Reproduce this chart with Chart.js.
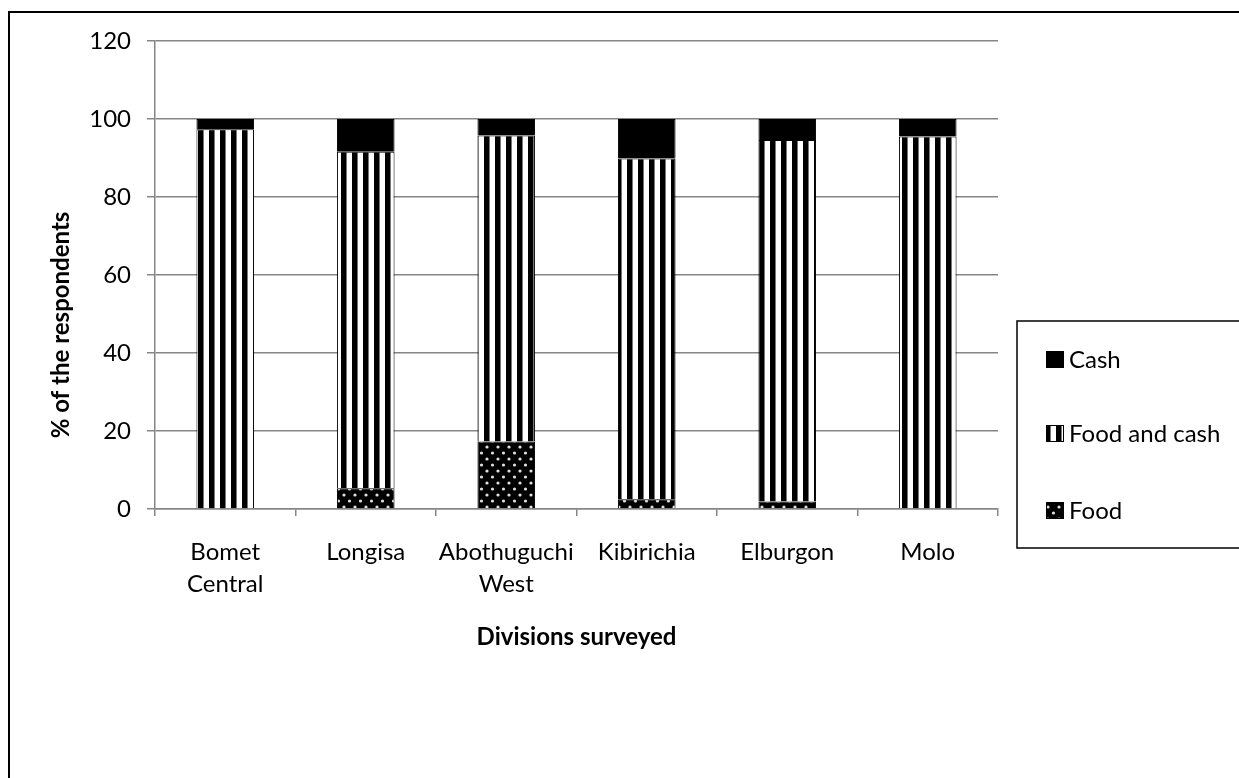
<!DOCTYPE html>
<html>
<head>
<meta charset="utf-8">
<script src="https://cdn.jsdelivr.net/npm/chart.js@4/dist/chart.umd.min.js"></script>
<style>
  html, body { margin: 0; padding: 0; background: #fff; }
  #wrap { width: 1239px; height: 778px; }
</style>
</head>
<body>
<div id="wrap"><canvas id="c" width="1239" height="778"></canvas></div>
<script>
// Divisions and the share of respondents in each (%)
const divisions = [['Bomet', 'Central'], 'Longisa', ['Abothuguchi', 'West'], 'Kibirichia', 'Elburgon', 'Molo'];
const food = [0, 5.3, 17.3, 2.5, 1.9, 0];
const foodAndCash = [97.4, 86.3, 78.5, 87.4, 92.7, 95.5];
const cash = [2.6, 8.4, 4.2, 10.1, 5.4, 4.5];
const yTicks = [0, 20, 40, 60, 80, 100, 120];

const FONT = 'Lato, "Open Sans", sans-serif';
const GRID = '#868686';

// Fill patterns: vertical stripes and dotted black
function stripePattern() {
  const t = document.createElement('canvas');
  t.width = 11; t.height = 4;
  const g = t.getContext('2d');
  g.fillStyle = '#fff'; g.fillRect(0, 0, 11, 4);
  g.fillStyle = '#000'; g.fillRect(0, 0, 5, 4);
  g.fillStyle = '#777'; g.fillRect(5, 0, 1, 4);
  return g.createPattern(t, 'repeat');
}
function dotPattern() {
  const t = document.createElement('canvas');
  t.width = 11; t.height = 12;
  const g = t.getContext('2d');
  g.fillStyle = '#000'; g.fillRect(0, 0, 11, 12);
  g.fillStyle = '#e0e0e0';
  [[3, 3], [8.5, 9]].forEach(([x, y]) => {
    g.beginPath(); g.arc(x, y, 1.6, 0, Math.PI * 2); g.fill();
  });
  return g.createPattern(t, 'repeat');
}
const stripes = stripePattern();
const dots = dotPattern();

// White page with the frame line along the top and left
const framePlugin = {
  id: 'frame',
  beforeDraw(chart) {
    const ctx = chart.ctx;
    ctx.save();
    ctx.fillStyle = '#fff';
    ctx.fillRect(0, 0, chart.width, chart.height);
    ctx.strokeStyle = '#000';
    ctx.lineWidth = 2;
    ctx.beginPath();
    ctx.moveTo(9, chart.height);
    ctx.lineTo(9, 12);
    ctx.lineTo(chart.width, 12);
    ctx.stroke();
    ctx.restore();
  }
};

// Axis titles
const axisTitles = {
  id: 'axisTitles',
  afterDraw(chart) {
    const ctx = chart.ctx, a = chart.chartArea;
    ctx.save();
    ctx.fillStyle = '#000';
    ctx.font = 'bold 24px ' + FONT;
    ctx.textAlign = 'center';
    ctx.textBaseline = 'middle';
    ctx.fillText('Divisions surveyed', (a.left + a.right) / 2, a.bottom + 128);
    ctx.translate(a.left - 94, a.top + 284);
    ctx.rotate(-Math.PI / 2);
    ctx.fillText('% of the respondents', 0, 0);
    ctx.restore();
  }
};

// Boxed legend at the right, drawn with the dataset fills
const boxLegend = {
  id: 'boxLegend',
  afterDraw(chart) {
    const ctx = chart.ctx, a = chart.chartArea;
    const x0 = a.right + 19, y0 = a.top + 280;
    ctx.save();
    ctx.strokeStyle = '#000';
    ctx.lineWidth = 1.5;
    ctx.strokeRect(x0, y0, 260, 227);
    const items = chart.data.datasets.slice().reverse();
    const rows = [38, 112, 189];
    ctx.font = '24px ' + FONT;
    ctx.textBaseline = 'middle';
    ctx.textAlign = 'left';
    items.forEach((ds, i) => {
      const cy = y0 + rows[i];
      const mx = x0 + 29, my = cy - 8;
      ctx.fillStyle = ds.backgroundColor;
      ctx.fillRect(mx, my, 18, 17);
      ctx.strokeStyle = '#000';
      ctx.lineWidth = 1;
      ctx.strokeRect(mx + 0.5, my + 0.5, 17, 16);
      ctx.fillStyle = '#000';
      ctx.fillText(ds.label, x0 + 52, cy + 1);
    });
    ctx.restore();
  }
};

new Chart(document.getElementById('c'), {
  type: 'bar',
  data: {
    labels: divisions,
    datasets: [
      { label: 'Food', data: food, backgroundColor: dots },
      { label: 'Food and cash', data: foodAndCash, backgroundColor: stripes },
      { label: 'Cash', data: cash, backgroundColor: '#000' }
    ]
  },
  options: {
    responsive: false,
    animation: false,
    devicePixelRatio: 1,
    layout: { padding: { left: 85, right: 241, top: 41, bottom: 169 } },
    datasets: {
      bar: {
        categoryPercentage: 1,
        barPercentage: 0.41,
        borderColor: '#000',
        borderWidth: 1
      }
    },
    plugins: {
      legend: { display: false },
      tooltip: { enabled: false }
    },
    scales: {
      x: {
        stacked: true,
        afterFit(s) { s.height = 100; },
        grid: {
          offset: true,
          drawOnChartArea: false,
          drawTicks: true,
          tickLength: 7,
          color: GRID,
          lineWidth: 1.5
        },
        border: { color: GRID, width: 1.5 },
        ticks: {
          color: '#000',
          font: { family: FONT, size: 24, lineHeight: 1.3 },
          padding: 21,
          maxRotation: 0,
          autoSkip: false
        }
      },
      y: {
        stacked: true,
        min: 0,
        max: 120,
        afterFit(s) { s.width = 70; },
        afterBuildTicks(s) { s.ticks = yTicks.map(v => ({ value: v })); },
        grid: {
          color: GRID,
          lineWidth: 1.5,
          tickLength: 8
        },
        border: { color: GRID, width: 1.5 },
        ticks: {
          color: '#000',
          font: { family: FONT, size: 24 },
          padding: 16
        }
      }
    }
  },
  plugins: [framePlugin, axisTitles, boxLegend]
});
</script>
</body>
</html>
